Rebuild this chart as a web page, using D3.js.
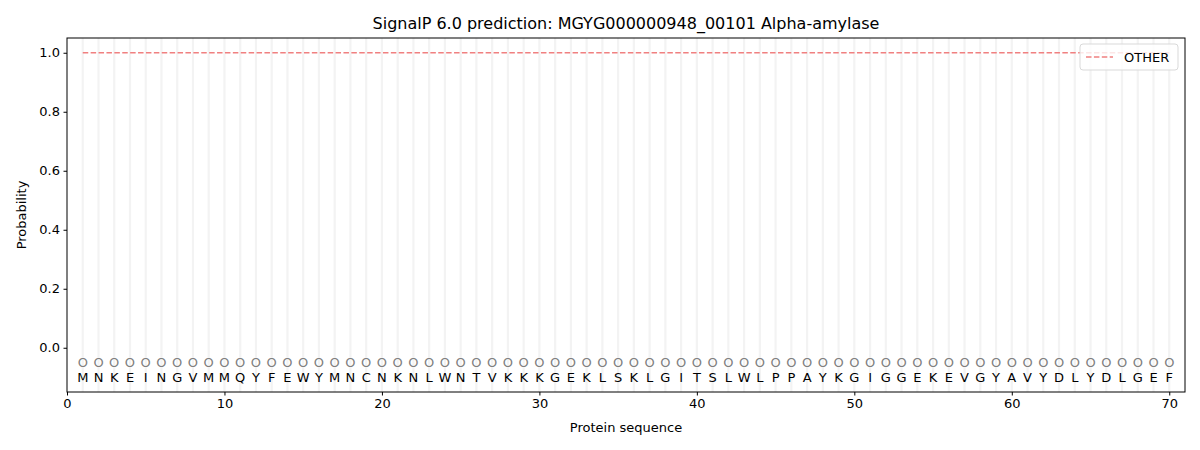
<!DOCTYPE html>
<html>
<head>
<meta charset="utf-8">
<script src="https://cdn.jsdelivr.net/npm/d3@7"></script>
<style>
  body { margin: 0; background: #fff; }
  text { font-family: "DejaVu Sans", sans-serif; }
</style>
</head>
<body>
<div id="chart"></div>
<script>
// sequence and per-residue prediction
var sequence = "MNKEINGVMMQYFEWYMNCNKNLWNTVKKKGEKLSKLGITSLWLPPAYKGIGGEKEVGYAVYDLYDLGEF".split("");
var positions = sequence.map(function(d, i) { return i + 1; });
var otherProb = [1, 1, 1, 1, 1, 1, 1, 1, 1, 1, 1, 1, 1, 1, 1, 1, 1, 1, 1, 1,
                 1, 1, 1, 1, 1, 1, 1, 1, 1, 1, 1, 1, 1, 1, 1, 1, 1, 1, 1, 1,
                 1, 1, 1, 1, 1, 1, 1, 1, 1, 1, 1, 1, 1, 1, 1, 1, 1, 1, 1, 1,
                 1, 1, 1, 1, 1, 1, 1, 1, 1, 1];
var xTicks = [0, 10, 20, 30, 40, 50, 60, 70];
var yTicks = [0.0, 0.2, 0.4, 0.6, 0.8, 1.0];

var W = 1200, H = 450;
var margin = {top: 38, right: 15, bottom: 58, left: 67};
var width = W - margin.left - margin.right;
var height = H - margin.top - margin.bottom;

var svg = d3.select("#chart").append("svg")
    .attr("width", W)
    .attr("height", H);

var g = svg.append("g")
    .attr("transform", "translate(" + margin.left + "," + margin.top + ")");

var x = d3.scaleLinear().domain([0, 71]).range([0, width]);
var y = d3.scaleLinear().domain([-0.15, 1.05]).range([height, 0]);

// faint vertical lines at every residue
g.selectAll(".vline").data(positions).enter()
    .append("line")
    .attr("class", "vline")
    .attr("x1", function(d) { return x(d); })
    .attr("x2", function(d) { return x(d); })
    .attr("y1", 0)
    .attr("y2", height)
    .style("stroke", "#f3f3f3")
    .style("stroke-width", 2.2);

// OTHER probability
var line = d3.line()
    .x(function(d, i) { return x(positions[i]); })
    .y(function(d) { return y(d); });

g.append("path")
    .datum(otherProb)
    .attr("d", line)
    .style("fill", "none")
    .style("stroke", "#f08080")
    .style("stroke-width", 1.5)
    .style("stroke-dasharray", "5.5,2.4");

// residue markers ("O") and letters
g.selectAll(".mark").data(positions).enter()
    .append("text")
    .attr("class", "mark")
    .attr("x", function(d) { return x(d); })
    .attr("y", y(-0.05))
    .attr("dy", "0.36em")
    .attr("text-anchor", "middle")
    .style("font-size", "13px")
    .style("fill", "#808080")
    .text("O");

g.selectAll(".aa").data(sequence).enter()
    .append("text")
    .attr("class", "aa")
    .attr("x", function(d, i) { return x(positions[i]); })
    .attr("y", y(-0.1))
    .attr("dy", "0.36em")
    .attr("text-anchor", "middle")
    .style("font-size", "13px")
    .text(function(d) { return d; });

// axes
var xAxis = g.append("g")
    .attr("transform", "translate(0," + height + ")")
    .call(d3.axisBottom(x).tickValues(xTicks).tickFormat(d3.format("d")).tickSizeOuter(0).tickSize(3.5).tickPadding(3.5));
var yAxis = g.append("g")
    .call(d3.axisLeft(y).tickValues(yTicks).tickFormat(d3.format(".1f")).tickSizeOuter(0).tickSize(3.5).tickPadding(3.5));

[xAxis, yAxis].forEach(function(a) {
    a.selectAll("text").style("font-size", "13px").style("fill", "#000")
        .style("font-family", "DejaVu Sans, sans-serif");
    a.selectAll("line").style("stroke", "#000");
    a.select(".domain").remove();
});

// frame
g.append("rect")
    .attr("width", width)
    .attr("height", height)
    .style("fill", "none")
    .style("stroke", "#000")
    .style("stroke-width", 1);

// labels
svg.append("text")
    .attr("x", margin.left + width / 2)
    .attr("y", 29)
    .attr("text-anchor", "middle")
    .style("font-size", "16px")
    .text("SignalP 6.0 prediction: MGYG000000948_00101 Alpha-amylase");

svg.append("text")
    .attr("x", margin.left + width / 2)
    .attr("y", 432)
    .attr("text-anchor", "middle")
    .style("font-size", "13px")
    .text("Protein sequence");

svg.append("text")
    .attr("transform", "translate(26," + (margin.top + height / 2) + ") rotate(-90)")
    .attr("text-anchor", "middle")
    .style("font-size", "13px")
    .text("Probability");

// legend
var lg = g.append("g").attr("transform", "translate(" + (width - 105) + ",6)");
lg.append("rect")
    .attr("width", 98)
    .attr("height", 26)
    .attr("rx", 3)
    .style("fill", "#fff")
    .style("fill-opacity", 0.8)
    .style("stroke", "#d9d9d9");
lg.append("line")
    .attr("x1", 6).attr("x2", 33)
    .attr("y1", 13).attr("y2", 13)
    .style("stroke", "#f08080")
    .style("stroke-width", 1.5)
    .style("stroke-dasharray", "5.5,2.4");
lg.append("text")
    .attr("x", 44)
    .attr("y", 13)
    .attr("dy", "0.35em")
    .style("font-size", "13px")
    .text("OTHER");
</script>
</body>
</html>
